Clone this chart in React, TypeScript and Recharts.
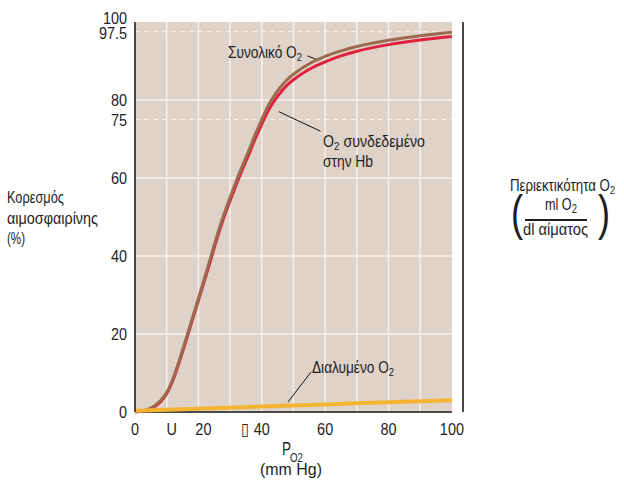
import React from "react";
import {
  LineChart,
  Line,
  XAxis,
  YAxis,
  ReferenceArea,
  ReferenceLine,
} from "recharts";

// Hb saturation curves (PO2 in mm Hg)
const PO2 = [0, 3, 6, 8, 10, 12, 14, 16, 18, 20, 22, 24, 26, 28, 30, 32, 34, 36, 38, 40, 42, 44, 46, 48, 50, 55, 60, 65, 70, 80, 90, 100];
const TOTAL_O2 = [0, 0.4, 1.5, 2.9, 5.0, 8.6, 13.3, 18.5, 23.8, 29.1, 34.5, 40, 45.5, 50.5, 55, 59.3, 63.3, 67.2, 71.3, 75, 78.5, 81.2, 83.4, 85.2, 86.6, 89.3, 91.2, 92.6, 93.7, 95.3, 96.5, 97.4];
const HB_BOUND = [0, 0.3, 1.3, 2.6, 4.7, 8.2, 12.9, 18.0, 23.3, 28.6, 33.9, 39.3, 44.8, 49.8, 54.2, 58.4, 62.4, 66.2, 70.2, 73.8, 77.2, 79.8, 82, 83.8, 85.2, 87.9, 89.8, 91.3, 92.5, 94.2, 95.4, 96.3];

const PO2_DISSOLVED = [0, 20, 40, 60, 80, 100];
const DISSOLVED = [0.3, 0.85, 1.4, 1.95, 2.5, 3.0];

const X_TICKS = [0, 11.6, 20, 34.6, 40, 60, 80, 100];
const X_TICK_LABELS = ["0", "U", "20", "▯", "40", "60", "80", "100"];
const LEFT_TICKS = [0, 20, 40, 60, 75, 80, 97.5, 100];
const RIGHT_TICKS = [0, 2, 4, 6, 8, 10, 12, 14, 16, 18, 20];
const V_GRID = [10, 20, 30, 40, 50, 60, 70, 80, 90];
const H_GRID = [20, 40, 60, 80];
const H_GRID_DASHED = [75, 97.5];

const curveData = PO2.map((p, i) => ({ p, total: TOTAL_O2[i], hb: HB_BOUND[i] }));
const dissolvedData = PO2_DISSOLVED.map((p, i) => ({ p, dis: DISSOLVED[i] }));

const FONT = "'Liberation Sans', Arial, sans-serif";
const INK = "#1e1e1e";

// condensed tick text
const TickText = ({ x, y, anchor, children }: any) => (
  <text
    transform={`translate(${x},${y}) scale(0.85,1)`}
    textAnchor={anchor}
    fontFamily={FONT}
    fontSize={17}
    fill={INK}
  >
    {children}
  </text>
);

const LeftTick = (props: any) => {
  const { x, y, payload } = props;
  const v = payload.value;
  const dy = v === 100 ? -4 : v === 97.5 ? 1 : 0;
  return <TickText x={x} y={y + dy + 6} anchor="end">{String(v)}</TickText>;
};

const BottomTick = (props: any) => {
  const { x, y, payload } = props;
  const i = X_TICKS.indexOf(payload.value);
  const dx = payload.value === 20 ? 5 : 0;
  return <TickText x={x + dx} y={y + 15} anchor="middle">{X_TICK_LABELS[i]}</TickText>;
};

const RightTick = (props: any) => {
  const { x, y, payload } = props;
  const v = payload.value;
  if (v % 4 !== 0) return null;
  return <TickText x={x} y={y + 6} anchor="start">{String(v)}</TickText>;
};

// stretched label with exact width
const Label = ({ x, y, w, size = 16, children }: any) => (
  <text x={x} y={y} textLength={w} lengthAdjust="spacingAndGlyphs" fontFamily={FONT} fontSize={size} fill={INK}>
    {children}
  </text>
);

const Sub = ({ children, size = 11 }: any) => (
  <tspan fontSize={size} dy={3}>{children}</tspan>
);

export default function App() {
  return (
    <div style={{ position: "absolute", left: 0, top: 0, width: 624, height: 483, background: "#fff", overflow: "hidden" }}>
      <LineChart width={624} height={483} margin={{ top: 22, right: 0, bottom: 0, left: 0 }}>
        <XAxis
          type="number"
          dataKey="p"
          domain={[0, 103.5]}
          allowDataOverflow
          ticks={X_TICKS}
          interval={0}
          axisLine={false}
          tickLine={false}
          height={71}
          tick={<BottomTick />}
        />
        <YAxis
          yAxisId="left"
          domain={[0, 100]}
          ticks={LEFT_TICKS}
          interval={0}
          width={135}
          tickLine={false}
          axisLine={{ stroke: "#4a4a4a", strokeWidth: 2 }}
          tick={<LeftTick />}
        />
        <YAxis
          yAxisId="right"
          orientation="right"
          domain={[0, 20.51]}
          ticks={RIGHT_TICKS}
          interval={0}
          width={161}
          tickSize={12}
          tickMargin={6}
          axisLine={{ stroke: "#4a4a4a", strokeWidth: 2 }}
          tickLine={{ stroke: "#111", strokeWidth: 1.5 }}
          tick={<RightTick />}
        />

        <ReferenceArea yAxisId="left" x1={0} x2={100} y1={0} y2={100} fill="#dfd2c9" fillOpacity={1} stroke="none" />
        {V_GRID.map((v) => (
          <ReferenceLine key={"v" + v} yAxisId="left" x={v} stroke="#f7f1ec" strokeWidth={1.5} />
        ))}
        {H_GRID.map((v) => (
          <ReferenceLine key={"h" + v} yAxisId="left" segment={[{ x: 0, y: v }, { x: 100, y: v }]} stroke="#f7f1ec" strokeWidth={1.5} />
        ))}
        {H_GRID_DASHED.map((v) => (
          <ReferenceLine key={"d" + v} yAxisId="left" segment={[{ x: 0, y: v }, { x: 100, y: v }]} stroke="#f7f1ec" strokeWidth={1.2} strokeDasharray="5 4" />
        ))}
        <ReferenceLine yAxisId="left" segment={[{ x: 0, y: 0 }, { x: 100, y: 0 }]} stroke="#4a4a4a" strokeWidth={2} />

        {/* leader lines */}
        <ReferenceLine yAxisId="left" segment={[{ x: 54.4, y: 91.3 }, { x: 57.6, y: 90.3 }]} stroke="#111" strokeWidth={1} />
        <ReferenceLine yAxisId="left" segment={[{ x: 45.4, y: 77 }, { x: 58.5, y: 72 }]} stroke="#111" strokeWidth={1} />
        <ReferenceLine yAxisId="left" segment={[{ x: 48.3, y: 2.6 }, { x: 55.6, y: 10.3 }]} stroke="#111" strokeWidth={1} />

        <Line yAxisId="left" data={curveData} dataKey="hb" type="monotone" stroke="#e0203c" strokeWidth={3} dot={false} activeDot={false} isAnimationActive={false} />
        <Line yAxisId="left" data={curveData} dataKey="total" type="monotone" stroke="#9b6a4f" strokeWidth={3} dot={false} activeDot={false} isAnimationActive={false} />
        <Line yAxisId="left" data={dissolvedData} dataKey="dis" type="monotone" stroke="#f3b431" strokeWidth={4} dot={false} activeDot={false} isAnimationActive={false} />
      </LineChart>

      <svg width={624} height={483} style={{ position: "absolute", left: 0, top: 0, pointerEvents: "none" }}>
        {/* curve annotations */}
        <Label x={228} y={58} w={74}>Συνολικό O<Sub>2</Sub></Label>
        <Label x={323} y={147} w={102}>O<Sub>2</Sub><tspan dy={-3}> συνδεδεμένο</tspan></Label>
        <Label x={323} y={167} w={50}>στην Hb</Label>
        <Label x={312} y={373} w={82}>Διαλυμένο O<Sub>2</Sub></Label>

        {/* left axis title */}
        <Label x={7} y={203} w={57}>Κορεσμός</Label>
        <Label x={7} y={224} w={91}>αιμοσφαιρίνης</Label>
        <Label x={7} y={244} w={18}>(%)</Label>

        {/* right axis title */}
        <Label x={510} y={191} w={105}>Περιεκτικότητα O<Sub>2</Sub></Label>
        <Label x={511} y={230} w={12} size={50}>(</Label>
        <Label x={598} y={230} w={12} size={50}>)</Label>
        <Label x={545} y={210} w={32}>ml O<Sub size={12}>2</Sub></Label>
        <line x1={525} y1={220} x2={587} y2={220} stroke={INK} strokeWidth={2} />
        <Label x={523} y={235} w={65}>dl αίματος</Label>

        {/* x axis title */}
        <Label x={282} y={455} w={9} size={18}>P</Label>
        <Label x={290} y={462} w={13} size={13}>O2</Label>
        <Label x={260} y={475} w={62} size={17}>(mm Hg)</Label>
      </svg>
    </div>
  );
}
